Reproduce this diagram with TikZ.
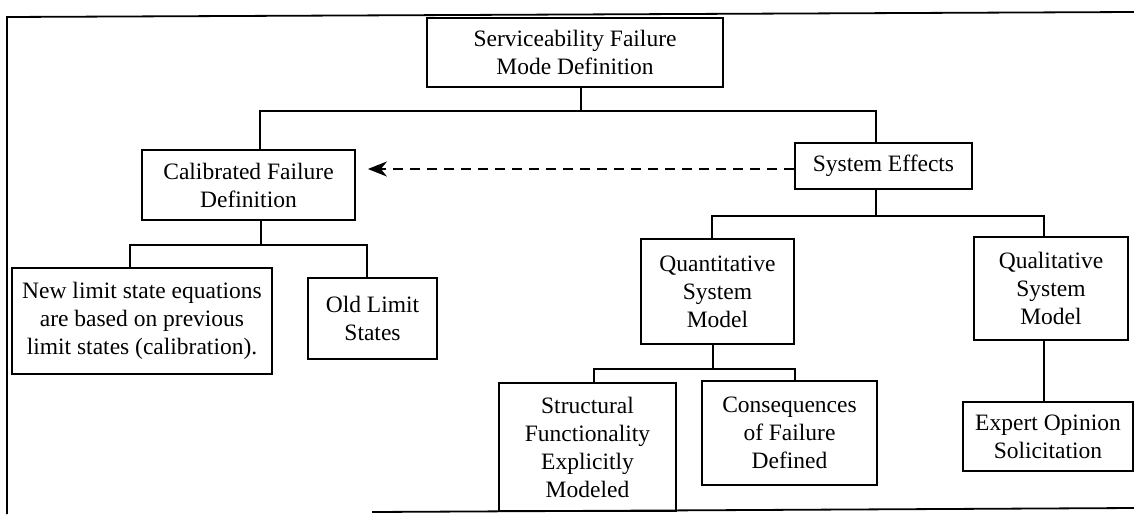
\documentclass[tikz,border=0pt]{standalone}
\usepackage{fontspec}
\setmainfont{Liberation Serif}
\usepackage{tikz}
\usetikzlibrary{arrows.meta}

\begin{document}
\begin{tikzpicture}[x=1pt,y=-1pt,
  box/.style={draw,line width=1.8pt,align=center,inner sep=0pt,
    font=\fontsize{23.5}{28}\selectfont},
  link/.style={line width=1.8pt},
  dashlink/.style={line width=2pt,dash pattern=on 10pt off 7pt,
    -{Stealth[length=19pt,width=15pt,inset=6pt]}}]
\useasboundingbox (0,0) rectangle (1134,514);
% frame
\draw[link] (7,514) -- (7,17) -- (1134,12);
\draw[link] (372,512) -- (1134,508);

\node[box,minimum width=296pt,minimum height=69pt] (sfmd) at (575,52.5)
  {Serviceability Failure\\Mode Definition};
\node[box,minimum width=213pt,minimum height=70pt] (cfd) at (248.5,185)
  {Calibrated Failure\\Definition};
\node[box,minimum width=177pt,minimum height=46pt] (syseff) at (883.5,166)
  {System Effects};
\node[box,minimum width=260pt,minimum height=106pt] (newls) at (142,321)
  {New limit state equations\\are based on previous\\limit states (calibration).};
\node[box,minimum width=129pt,minimum height=81pt] (oldls) at (372.5,318.5)
  {Old Limit\\States};
\node[box,minimum width=153pt,minimum height=105pt] (quant) at (717.5,291.5)
  {Quantitative\\System\\Model};
\node[box,minimum width=154pt,minimum height=103pt] (qual) at (1051,288.5)
  {Qualitative\\System\\Model};
\node[box,minimum width=177pt,minimum height=128pt] (struct) at (587.5,447)
  {Structural\\Functionality\\Explicitly\\Modeled};
\node[box,minimum width=175pt,minimum height=104pt] (conseq) at (789.5,433)
  {Consequences\\of Failure\\Defined};
\node[box,minimum width=170pt,minimum height=69pt] (expert) at (1048,436.5)
  {Expert Opinion\\Solicitation};

% tree
\draw[link] ([xshift=6pt]sfmd.south) -- ++(0,23) -| ([xshift=11.5pt]cfd.north);
\draw[link] ([xshift=6pt]sfmd.south) ++(0,23) -| ([xshift=-7.5pt]syseff.north);
\draw[link] ([xshift=12.5pt]cfd.south) -- ++(0,24) -| ([xshift=-12pt]newls.north);
\draw[link] ([xshift=12.5pt]cfd.south) ++(0,24) -| ([xshift=-5.5pt]oldls.north);
\draw[link] ([xshift=-7.5pt]syseff.south) -- ++(0,26) -| ([xshift=-5.5pt]quant.north);
\draw[link] ([xshift=-7.5pt]syseff.south) ++(0,26) -| ([xshift=-7pt]qual.north);
\draw[link] ([xshift=-4.5pt]quant.south) -- ++(0,24) -| ([xshift=6.5pt]struct.north);
\draw[link] ([xshift=-4.5pt]quant.south) ++(0,24) -| ([xshift=5.5pt]conseq.north);
\draw[link] ([xshift=-7pt]qual.south) -- ([xshift=-4pt]expert.north);

\draw[dashlink] ([yshift=-3pt]syseff.west) -- ([xshift=12pt,yshift=-3pt]cfd.east |- syseff.west);
\end{tikzpicture}
\end{document}
